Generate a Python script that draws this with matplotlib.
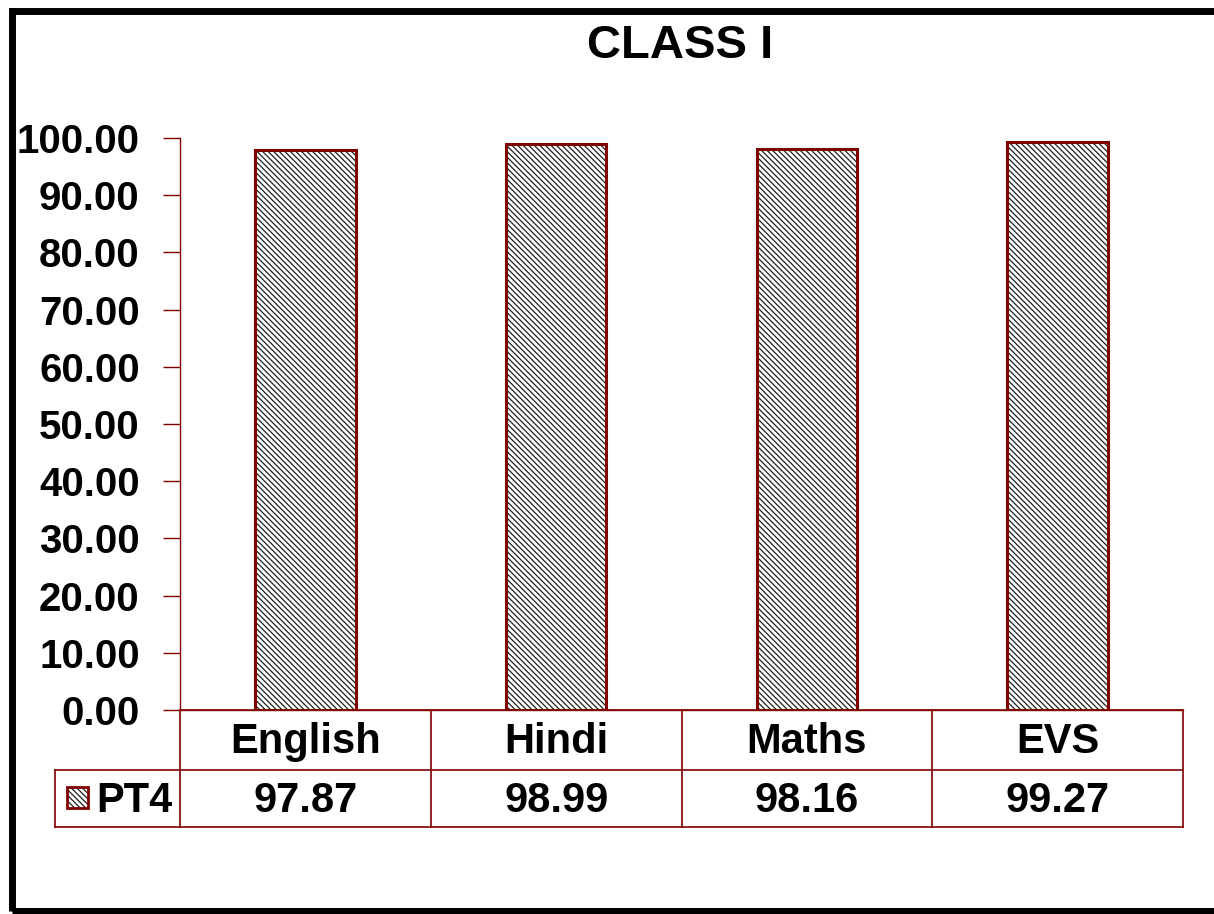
import matplotlib
matplotlib.use("Agg")
import matplotlib.pyplot as plt
from matplotlib.patches import Rectangle
from matplotlib.lines import Line2D
import matplotlib.transforms as mtransforms

categories = ["English", "Hindi", "Maths", "EVS"]
series_name = "PT4"
values = [97.87, 98.99, 98.16, 99.27]
yticks = [0, 10, 20, 30, 40, 50, 60, 70, 80, 90, 100]
title = "CLASS I"

W, H = 1214, 914
plt.rcParams['font.family'] = ['Liberation Sans', 'DejaVu Sans']
plt.rcParams['hatch.linewidth'] = 0.9
RED = '#800000'
HATCH = '\\\\\\\\\\\\'

fig = plt.figure(figsize=(W / 100, H / 100), dpi=100)
L, R, T, B = 180, 1183, 138, 710
ax = fig.add_axes([L / W, 1 - B / H, (R - L) / W, (B - T) / H])

x = list(range(len(categories)))
# hatch layer (black hatch) then dark-red outline on top
ax.bar(x, values, width=0.4, color='white', edgecolor='#202020', linewidth=0,
       hatch=HATCH, zorder=3)
ax.bar(x, values, width=0.4, color='none', edgecolor=RED, linewidth=2.2, zorder=4)
ax.set_xlim(-0.5, len(categories) - 0.5)
ax.set_ylim(0, 100)
ax.set_yticks(yticks)
ax.set_yticklabels([f"{v:.2f}" for v in yticks], fontsize=29, fontweight='bold')
ax.tick_params(axis='y', direction='out', length=12, width=1, color=RED, pad=17)
ax.set_xticks([])
for s in ['top', 'right']:
    ax.spines[s].set_visible(False)
ax.spines['left'].set_color(RED)
ax.spines['left'].set_linewidth(1)
ax.spines['bottom'].set_color(RED)
ax.spines['bottom'].set_linewidth(1)

fig.text(680 / W, 1 - 46 / H, title, ha='center', va='center', fontsize=34, fontweight='bold')

def fx(px): return px / W
def fy(py): return 1 - py / H

def hline(x0, x1, y, lw=1.2):
    fig.add_artist(Line2D([fx(x0), fx(x1)], [fy(y), fy(y)], color=RED, lw=lw, transform=fig.transFigure))

def vline(xp, y0, y1, lw=1.2):
    fig.add_artist(Line2D([fx(xp), fx(xp)], [fy(y0), fy(y1)], color=RED, lw=lw, transform=fig.transFigure))

r1, r2, r3 = 710, 770, 827
hline(L, R, r1)
hline(55, R, r2)
hline(55, R, r3)
ncol = len(categories)
colw = (R - L) / ncol
for i in range(ncol + 1):
    vline(L + i * colw, r1, r3)
vline(55, r2, r3)

blend = mtransforms.blended_transform_factory(ax.transData, fig.transFigure)
for i, (c, v) in enumerate(zip(categories, values)):
    ax.text(i, fy((r1 + r2) / 2 + 2), c, transform=blend, ha='center', va='center',
            fontsize=30, fontweight='bold', clip_on=False)
    ax.text(i, fy((r2 + r3) / 2 + 2), f"{v:.2f}", transform=blend, ha='center', va='center',
            fontsize=30, fontweight='bold', clip_on=False)

# legend key in row label
key = (fx(67), fy(808)), fx(88) - fx(67), fy(787) - fy(808)
fig.add_artist(Rectangle(*key, facecolor='white', edgecolor='#202020', linewidth=0,
                         hatch=HATCH, transform=fig.transFigure))
fig.add_artist(Rectangle(*key, facecolor='none', edgecolor=RED, linewidth=2,
                         transform=fig.transFigure))
fig.text(fx(96), fy((r2 + r3) / 2 + 2), series_name, ha='left', va='center',
         fontsize=30, fontweight='bold')

# outer frame
fig.add_artist(Rectangle((fx(12), fy(911)), fx(1300) - fx(12), fy(11) - fy(911),
                         facecolor='none', edgecolor='black', linewidth=5,
                         transform=fig.transFigure))

fig.savefig("out.png", dpi=100)
